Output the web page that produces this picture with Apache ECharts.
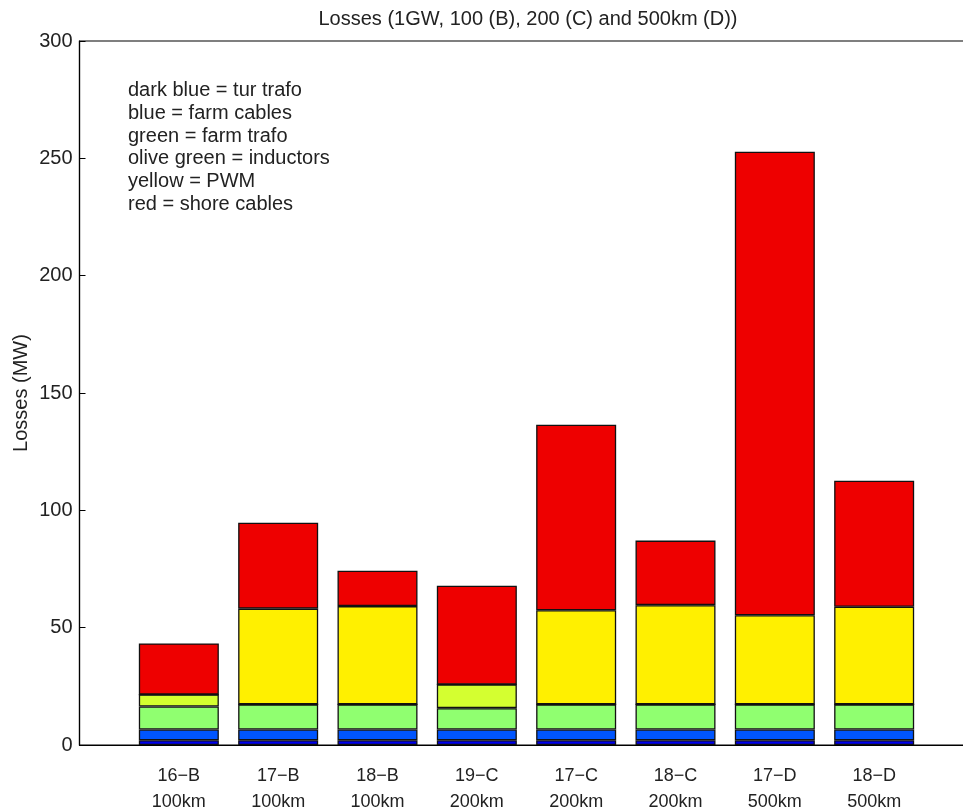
<!DOCTYPE html>
<html>
<head>
<meta charset="utf-8">
<script src="https://cdn.jsdelivr.net/npm/echarts@6/dist/echarts.min.js"></script>
<style>html,body{margin:0;padding:0;background:#fff;overflow:hidden}#c{width:976px;height:811px}</style>
</head>
<body>
<div id="c"></div>
<script>
const categories = ['16\u2212B','17\u2212B','18\u2212B','19\u2212C','17\u2212C','18\u2212C','17\u2212D','18\u2212D'];
const distances = ['100km','100km','100km','200km','200km','200km','500km','500km'];
const turTrafo    = [2.0, 2.0, 2.0, 2.0, 2.0, 2.0, 2.0, 2.0];
const farmCables  = [4.6, 4.6, 4.6, 4.6, 4.6, 4.6, 4.6, 4.6];
const farmTrafo   = [9.8, 10.7, 10.7, 9.1, 10.7, 10.7, 10.7, 10.7];
const inductors   = [5.1, 0, 0, 10.1, 0, 0, 0, 0];
const pwm         = [0, 40.8, 41.9, 0, 40.1, 42.3, 38.0, 41.6];
const shoreCables = [21.8, 36.6, 15.1, 42.1, 79.1, 27.5, 197.5, 53.7];
const yTicks = [0, 50, 100, 150, 200, 250, 300];
const noteLines = ['dark blue = tur trafo','blue = farm cables','green = farm trafo','olive green = inductors','yellow = PWM','red = shore cables'];

const layers = [
  {name:'tur trafo', data: turTrafo, color:'#0000ee'},
  {name:'farm cables', data: farmCables, color:'#0055ff'},
  {name:'farm trafo', data: farmTrafo, color:'#90ff70'},
  {name:'inductors', data: inductors, color:'#d4ff30'},
  {name:'PWM', data: pwm, color:'#fff000'},
  {name:'shore cables', data: shoreCables, color:'#ee0000'}
];

// x positions: an empty slot on each side, like the reference's x-limits
const xSlots = [''].concat(categories, ['']);

const chart = echarts.init(document.getElementById('c'), null, {renderer:'canvas'});
const font = 'Liberation Sans, Arial, sans-serif';
chart.setOption({
  animation: false,
  backgroundColor: '#fff',
  grid: {left: 79.5, top: 41, width: 894, height: 704, outerBoundsMode: 'none', containLabel: false, show: true, borderColor: '#000', borderWidth: 1.2, backgroundColor: 'transparent'},
  xAxis: {
    type: 'category', data: xSlots, boundaryGap: false,
    axisLine: {show: true, lineStyle: {color: '#000', width: 1.2}},
    axisTick: {show: false},
    splitLine: {show: false},
    axisLabel: {
      interval: 0, color: '#222', fontFamily: font, fontSize: 18, margin: 18, lineHeight: 26,
      formatter: function (v, idx) { const i = idx - 1; return (i >= 0 && i < categories.length) ? categories[i] + '\n' + distances[i] : ''; }
    }
  },
  yAxis: [{
    type: 'value', min: yTicks[0], max: yTicks[yTicks.length-1], interval: 50,
    name: 'Losses (MW)', nameLocation: 'middle', nameGap: 48, nameRotate: 90, nameMoveOverlap: false,
    nameTextStyle: {color: '#222', fontFamily: font, fontSize: 20},
    axisLine: {show: true, lineStyle: {color: '#000', width: 1.2}},
    axisTick: {show: true, inside: true, length: 6, lineStyle: {color: '#000'}},
    splitLine: {show: false},
    axisLabel: {color: '#222', fontFamily: font, fontSize: 20, margin: 7}
  }, {
    type: 'value', position: 'right', min: 0, max: 300, interval: 50,
    axisLine: {show: true, lineStyle: {color: '#000'}},
    axisTick: {show: true, inside: true, length: 6, lineStyle: {color: '#000'}},
    axisLabel: {show: false}, splitLine: {show: false}
  }],
  graphic: [
    {type: 'text', x: 528, y: 9, style: {text: 'Losses (1GW, 100 (B), 200 (C) and 500km (D))', font: '20px ' + font, fill: '#222', textAlign: 'center'}},
    {type: 'text', x: 128, y: 79, style: {text: noteLines.join('\n'), font: '20px ' + font, lineHeight: 22.8, fill: '#222'}}
  ],
  series: layers.map(l => ({
    name: l.name, type: 'bar', stack: 'total', barWidth: 80,
    itemStyle: {color: l.color, borderColor: '#111', borderWidth: 1.3},
    data: ['-'].concat(l.data, ['-'])
  }))
});
</script>
</body>
</html>
